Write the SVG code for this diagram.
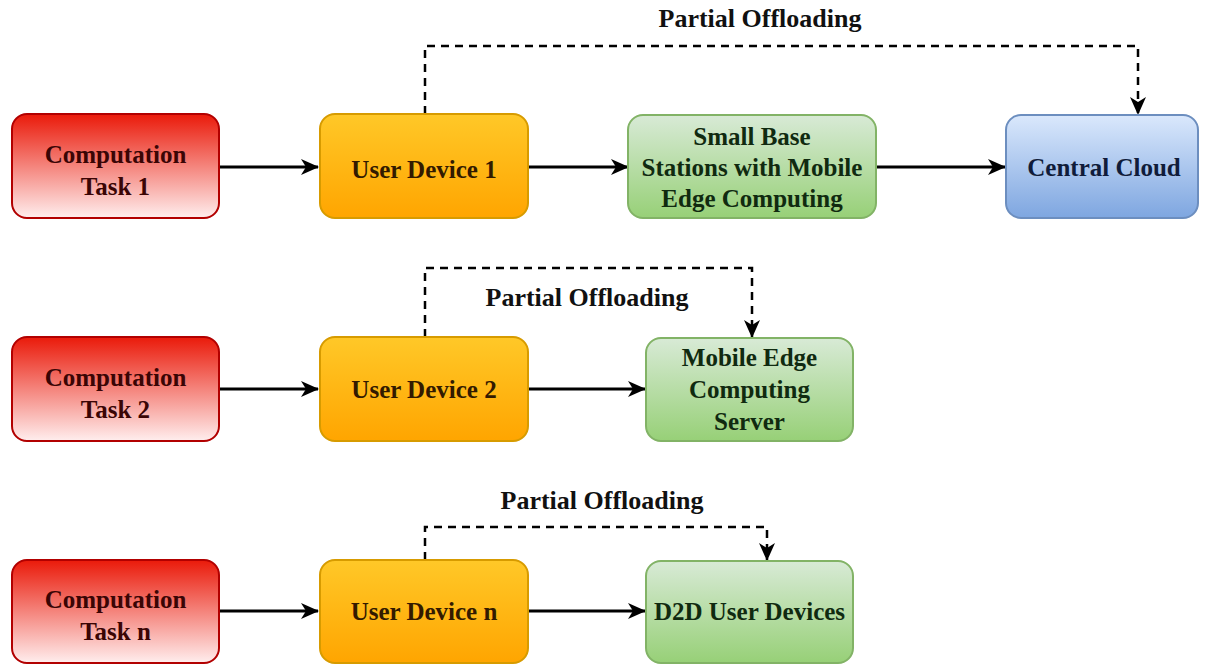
<svg xmlns="http://www.w3.org/2000/svg" width="1208" height="664" viewBox="0 0 1208 664">
<defs>
  <linearGradient id="gRed" x1="0" y1="0" x2="0" y2="1">
    <stop offset="0" stop-color="#ea1a0a"/>
    <stop offset="1" stop-color="#ffeeee"/>
  </linearGradient>
  <linearGradient id="gOrange" x1="0" y1="0" x2="0" y2="1">
    <stop offset="0" stop-color="#ffc828"/>
    <stop offset="1" stop-color="#ffa500"/>
  </linearGradient>
  <linearGradient id="gGreen" x1="0" y1="0" x2="0" y2="1">
    <stop offset="0" stop-color="#d8ead6"/>
    <stop offset="1" stop-color="#97d077"/>
  </linearGradient>
  <linearGradient id="gBlue" x1="0" y1="0" x2="0" y2="1">
    <stop offset="0" stop-color="#dae8fc"/>
    <stop offset="1" stop-color="#7ea6e0"/>
  </linearGradient>
  <marker id="arr" viewBox="0 0 18 16" refX="17" refY="8" markerWidth="18" markerHeight="16" markerUnits="userSpaceOnUse" orient="auto">
    <path d="M0,0 L18,8 L0,16 L5,8 Z" fill="#000"/>
  </marker>
</defs>
<style>
  .red { fill: url(#gRed); stroke: #b20000; stroke-width: 2; }
  .orange { fill: url(#gOrange); stroke: #d79b00; stroke-width: 2; }
  .green { fill: url(#gGreen); stroke: #82b366; stroke-width: 2; }
  .blue { fill: url(#gBlue); stroke: #6c8ebf; stroke-width: 2; }
  text { font-family: "Liberation Serif", "Times New Roman", serif; font-weight: bold; font-size: 25px; text-anchor: middle; }
  .tr { fill: #3a0505; }
  .to { fill: #331a00; }
  .tg { fill: #102a10; }
  .tb { fill: #101c3a; }
  .lbl { fill: #111; font-size: 26px; }
  .solid { fill: none; stroke: #000; stroke-width: 3; marker-end: url(#arr); }
  .dash { fill: none; stroke: #000; stroke-width: 2.5; stroke-dasharray: 8 6; marker-end: url(#arr); }
</style>

<g id="connectors">
  <path class="solid" d="M220,167 L318,167"/>
  <path class="solid" d="M528,167 L628,167"/>
  <path class="solid" d="M876,167 L1005,167"/>
  <path class="dash" d="M425,114 L425,46 L1138,46 L1138,114"/>
  <path class="solid" d="M220,389 L318,389"/>
  <path class="solid" d="M528,389 L645,389"/>
  <path class="dash" d="M425,337 L425,268 L752,268 L752,337"/>
  <path class="solid" d="M220,611 L318,611"/>
  <path class="solid" d="M528,611 L645,611"/>
  <path class="dash" d="M425,560 L425,527 L767,527 L767,560"/>
  <text class="lbl" x="760" y="27">Partial Offloading</text>
  <text class="lbl" x="587" y="306">Partial Offloading</text>
  <text class="lbl" x="602" y="509">Partial Offloading</text>
</g>

<g id="task1">
  <rect class="red" x="12" y="114" width="207" height="104" rx="15"/>
  <text class="tr" x="115.5" y="163">Computation</text>
  <text class="tr" x="115.5" y="195">Task 1</text>
</g>
<g id="device1">
  <rect class="orange" x="320" y="114" width="208" height="104" rx="15"/>
  <text class="to" x="424" y="178">User Device 1</text>
</g>
<g id="sbs">
  <rect class="green" x="628" y="115" width="248" height="103" rx="15"/>
  <text class="tg" x="752" y="145">Small Base</text>
  <text class="tg" x="752" y="176">Stations with Mobile</text>
  <text class="tg" x="752" y="207">Edge Computing</text>
</g>
<g id="cloud">
  <rect class="blue" x="1006" y="115" width="192" height="103" rx="15"/>
  <text class="tb" x="1104" y="176">Central Cloud</text>
</g>

<g id="task2">
  <rect class="red" x="12" y="337" width="207" height="104" rx="15"/>
  <text class="tr" x="115.5" y="386">Computation</text>
  <text class="tr" x="115.5" y="418">Task 2</text>
</g>
<g id="device2">
  <rect class="orange" x="320" y="337" width="208" height="104" rx="15"/>
  <text class="to" x="424" y="398">User Device 2</text>
</g>
<g id="mec">
  <rect class="green" x="646" y="338" width="207" height="103" rx="15"/>
  <text class="tg" x="749.5" y="366">Mobile Edge</text>
  <text class="tg" x="749.5" y="398">Computing</text>
  <text class="tg" x="749.5" y="430">Server</text>
</g>

<g id="taskn">
  <rect class="red" x="12" y="560" width="207" height="103" rx="15"/>
  <text class="tr" x="115.5" y="608">Computation</text>
  <text class="tr" x="115.5" y="640">Task n</text>
</g>
<g id="devicen">
  <rect class="orange" x="320" y="560" width="208" height="103" rx="15"/>
  <text class="to" x="424" y="620">User Device n</text>
</g>
<g id="d2d">
  <rect class="green" x="646" y="561" width="207" height="102" rx="15"/>
  <text class="tg" x="749.5" y="620">D2D User Devices</text>
</g>
</svg>
